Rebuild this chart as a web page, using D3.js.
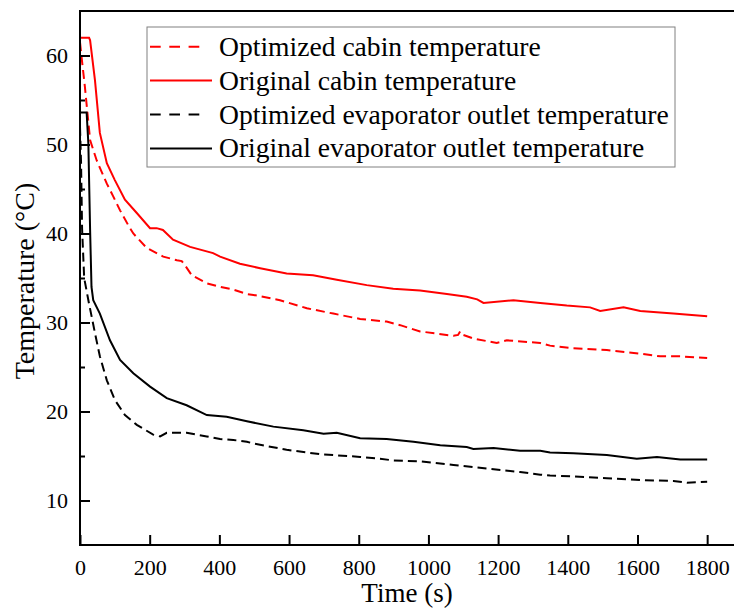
<!DOCTYPE html>
<html>
<head>
<meta charset="utf-8">
<script src="https://cdn.jsdelivr.net/npm/d3@7.9.0/dist/d3.min.js"></script>
<style>
  body { margin: 0; background: #fff; }
  svg { display: block; font-family: "Liberation Serif", "Times New Roman", serif; }
</style>
</head>
<body>
<div id="chart"></div>
<script>
// series: time (s) and temperature (°C)
const optCabinT = [0, 4, 14, 29, 48, 77, 95, 115, 139, 153, 191, 239, 278, 292, 300, 321, 364, 402, 440, 479, 498, 574, 651, 727, 804, 880, 919, 976, 1072, 1085, 1091, 1100, 1129, 1196, 1225, 1321, 1349, 1416, 1512, 1608, 1665, 1723, 1800];
const optCabinV = [61.5, 60.0, 56.5, 50.5, 48.2, 45.6, 44.2, 42.6, 40.9, 40.0, 38.4, 37.4, 37.0, 36.9, 36.5, 35.3, 34.4, 34.0, 33.7, 33.2, 33.1, 32.5, 31.6, 31.0, 30.4, 30.1, 29.7, 29.0, 28.5, 28.6, 29.0, 28.6, 28.2, 27.7, 28.0, 27.7, 27.4, 27.1, 26.9, 26.5, 26.2, 26.2, 26.0];

const origCabinT = [0, 26, 29, 43, 57, 77, 100, 129, 163, 201, 220, 238, 267, 316, 382, 402, 459, 517, 593, 669, 737, 823, 899, 976, 1053, 1110, 1140, 1158, 1244, 1321, 1397, 1464, 1493, 1560, 1608, 1703, 1800];
const origCabinV = [62.0, 62.0, 61.7, 57.2, 51.3, 47.9, 46.0, 43.8, 42.3, 40.6, 40.6, 40.4, 39.3, 38.5, 37.8, 37.4, 36.6, 36.1, 35.5, 35.3, 34.8, 34.2, 33.8, 33.6, 33.2, 32.9, 32.6, 32.2, 32.5, 32.2, 31.9, 31.7, 31.3, 31.7, 31.3, 31.0, 30.7];

const optEvapT = [0, 3, 6, 12, 24, 43, 57, 77, 100, 129, 163, 210, 230, 249, 306, 364, 402, 440, 479, 498, 593, 689, 804, 861, 899, 976, 1072, 1168, 1263, 1321, 1349, 1416, 1512, 1608, 1703, 1742, 1800];
const optEvapV = [52.0, 48.0, 40.5, 35.0, 32.5, 28.8, 26.2, 23.5, 21.3, 19.6, 18.5, 17.4, 17.2, 17.6, 17.6, 17.2, 16.9, 16.8, 16.6, 16.4, 15.7, 15.2, 14.9, 14.7, 14.5, 14.4, 14.0, 13.6, 13.2, 12.9, 12.8, 12.7, 12.5, 12.3, 12.2, 12.0, 12.1];

const origEvapT = [0, 19, 24, 29, 33, 38, 57, 86, 115, 153, 201, 249, 306, 364, 421, 479, 555, 641, 699, 737, 804, 880, 957, 1034, 1110, 1129, 1187, 1263, 1321, 1349, 1416, 1512, 1598, 1656, 1723, 1800];
const origEvapV = [53.6, 53.6, 50.1, 40.4, 34.0, 32.5, 31.0, 28.0, 25.8, 24.3, 22.8, 21.5, 20.7, 19.6, 19.4, 18.9, 18.3, 17.9, 17.5, 17.6, 17.0, 16.9, 16.6, 16.2, 16.0, 15.8, 15.9, 15.6, 15.6, 15.4, 15.3, 15.1, 14.7, 14.9, 14.6, 14.6];

const legendLabels = [
    "Optimized cabin temperature",
    "Original cabin temperature",
    "Optimized evaporator outlet temperature",
    "Original evaporator outlet temperature"
];
const xTicks = [0, 200, 400, 600, 800, 1000, 1200, 1400, 1600, 1800];
const yTicks = [10, 20, 30, 40, 50, 60];
const yMinorTicks = [15, 25, 35, 45, 55];

const width = 734;
const height = 610;
const serif = "'Liberation Serif', 'Times New Roman', serif";

const svg = d3.select("#chart")
    .append("svg")
    .attr("width", width)
    .attr("height", height);

// scales (right edge of the frame falls just outside the picture)
const xScale = d3.scaleLinear().domain([0, 1900]).range([80, 742]);
const yScale = d3.scaleLinear().domain([5, 65]).range([545, 11]);

const series = [
    { t: optCabinT, v: optCabinV, color: "#ff0000", dash: "9,5" },
    { t: origCabinT, v: origCabinV, color: "#ff0000", dash: null },
    { t: optEvapT, v: optEvapV, color: "#000000", dash: "9,5" },
    { t: origEvapT, v: origEvapV, color: "#000000", dash: null }
];

const line = d3.line()
    .x(d => xScale(d[0]))
    .y(d => yScale(d[1]));

// curves
series.forEach(s => {
    svg.append("path")
        .datum(s.t.map((t, i) => [t, s.v[i]]))
        .attr("fill", "none")
        .attr("stroke", s.color)
        .attr("stroke-width", 2)
        .attr("stroke-dasharray", s.dash)
        .attr("d", line);
});

// axes, ticks point inward
const xAxis = svg.append("g")
    .attr("transform", `translate(0,${yScale.range()[0]})`)
    .call(d3.axisBottom(xScale).tickValues(xTicks).tickFormat(d3.format("d"))
        .tickSizeInner(-10).tickSizeOuter(0).tickPadding(14));

const yAxis = svg.append("g")
    .attr("transform", `translate(${xScale.range()[0]},0)`)
    .call(d3.axisLeft(yScale).tickValues(yTicks).tickFormat(d3.format("d"))
        .tickSizeInner(-10).tickSizeOuter(0).tickPadding(12));

const yMinor = svg.append("g")
    .attr("transform", `translate(${xScale.range()[0]},0)`)
    .call(d3.axisLeft(yScale).tickValues(yMinorTicks).tickSize(-5).tickFormat(""));

[xAxis, yAxis, yMinor].forEach(g => {
    g.select(".domain").remove();
    g.selectAll("line").attr("stroke", "#000").attr("stroke-width", 2);
    g.selectAll("text")
        .attr("fill", "#000")
        .style("font-size", "22px")
        .style("font-family", serif);
});

// frame
svg.append("rect")
    .attr("x", xScale.range()[0])
    .attr("y", yScale.range()[1])
    .attr("width", xScale.range()[1] - xScale.range()[0])
    .attr("height", yScale.range()[0] - yScale.range()[1])
    .attr("fill", "none")
    .attr("stroke", "#000")
    .attr("stroke-width", 2);

// axis titles
svg.append("text")
    .attr("x", 407)
    .attr("y", 602)
    .attr("text-anchor", "middle")
    .style("font-size", "27px")
    .style("font-family", serif)
    .text("Time (s)");

svg.append("text")
    .attr("transform", `translate(34,281) rotate(-90)`)
    .attr("text-anchor", "middle")
    .style("font-size", "28px")
    .style("font-family", serif)
    .text("Temperature (°C)");

// legend
const legend = svg.append("g");
legend.append("rect")
    .attr("x", 147)
    .attr("y", 27)
    .attr("width", 528)
    .attr("height", 140)
    .attr("fill", "#fff")
    .attr("stroke", "#808080")
    .attr("stroke-width", 1);

legendLabels.forEach((label, i) => {
    const cy = 46.7 + i * 33.9;
    const s = series[i];
    legend.append("line")
        .attr("x1", 150)
        .attr("x2", s.dash ? 201 : 212)
        .attr("y1", cy)
        .attr("y2", cy)
        .attr("stroke", s.color)
        .attr("stroke-width", 2)
        .attr("stroke-dasharray", s.dash ? "10.7,8.6" : null);
    legend.append("text")
        .attr("x", 219)
        .attr("y", cy + 9)
        .style("font-size", "27.6px")
        .style("font-family", serif)
        .text(label);
});
</script>
</body>
</html>
